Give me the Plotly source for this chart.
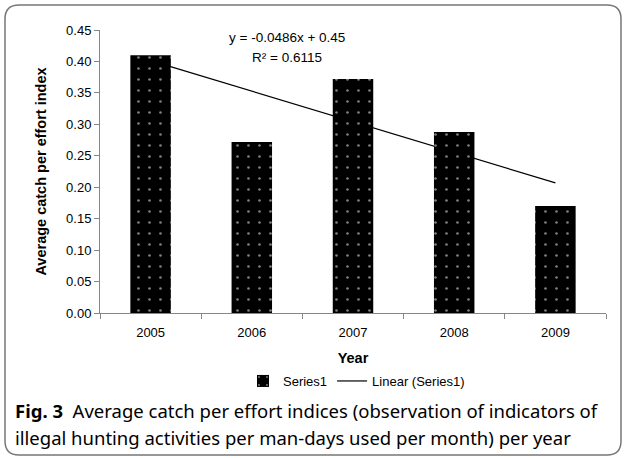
import plotly.graph_objects as go

years = ["2005", "2006", "2007", "2008", "2009"]
cpue = [0.410, 0.272, 0.372, 0.288, 0.170]
trend_slope = -0.0486
trend_intercept = 0.45
trend_vals = [trend_slope * (i + 1) + trend_intercept for i in range(len(years))]
y_ticks = [0.00, 0.05, 0.10, 0.15, 0.20, 0.25, 0.30, 0.35, 0.40, 0.45]

W, H = 624, 458
L, R, T, B = 100, 18, 30, 145
PW, PH = W - L - R, H - T - B

def px(x):
    return (x - L) / PW

def py(y):
    return (H - B - y) / PH

FONT = "Liberation Sans"

fig = go.Figure()
fig.add_trace(go.Scatter(
    x=years, y=trend_vals, mode="lines", name="Linear (Series1)",
    line=dict(color="black", width=1.2), xaxis="x", yaxis="y",
))
fig.add_trace(go.Bar(
    x=years, y=cpue, name="Series1", width=0.4, xaxis="x2", yaxis="y2",
    marker=dict(color="black", line=dict(width=0),
                pattern=dict(shape=".", bgcolor="black", fgcolor="white",
                             size=11, solidity=0.045, fillmode="overlay")),
))

axis_common = dict(showline=True, linecolor="#868686", linewidth=1, ticks="outside",
                   ticklen=5, tickcolor="#868686", showgrid=False, zeroline=False,
                   tickfont=dict(size=13))
fig.update_layout(
    width=W, height=H, margin=dict(l=L, r=R, t=T, b=B),
    paper_bgcolor="white", plot_bgcolor="white",
    font=dict(family=FONT, size=13, color="black"),
    showlegend=True,
    legend=dict(orientation="h", x=px(243), y=py(381), xanchor="left", yanchor="middle",
                font=dict(size=13), traceorder="reversed",
                bgcolor="rgba(0,0,0,0)"),
    xaxis=dict(**axis_common, tickson="boundaries", ticklabelstandoff=7,
               title=dict(text="<b>Year</b>", standoff=14, font=dict(size=14.5))),
    yaxis=dict(**axis_common, range=[0, 0.45], tickvals=y_ticks, tickformat=".2f",
               title=dict(text="<b>Average catch per effort index</b>", standoff=16,
                          font=dict(size=14.5))),
    xaxis2=dict(overlaying="x", matches="x", visible=False, categoryorder="array",
                categoryarray=years),
    yaxis2=dict(overlaying="y", range=[0, 0.45], visible=False),
    bargap=0.6,
)

fig.add_annotation(xref="paper", yref="paper", x=px(287), y=py(38),
                   text="y = -0.0486x + 0.45", showarrow=False,
                   font=dict(size=13.5), xanchor="center", yanchor="middle")
fig.add_annotation(xref="paper", yref="paper", x=px(287), y=py(57),
                   text="R² = 0.6115", showarrow=False,
                   font=dict(size=13.5), xanchor="center", yanchor="middle")

CAP = "Noto Sans"
fig.add_annotation(xref="paper", yref="paper", x=px(13), y=py(410),
                   text="<b>Fig. 3</b>  Average catch per effort indices (observation of indicators of",
                   showarrow=False, font=dict(size=18.5, family=CAP),
                   xanchor="left", yanchor="middle", align="left")
fig.add_annotation(xref="paper", yref="paper", x=px(13), y=py(437),
                   text="illegal hunting activities per man-days used per month) per year",
                   showarrow=False, font=dict(size=18.5, family=CAP),
                   xanchor="left", yanchor="middle", align="left")

# rounded frame
x0, x1, y0, y1 = px(5), px(621), py(5), py(455)
r, ry = 14 / PW, 14 / PH
path = (f"M {x0+r},{y0} L {x1-r},{y0} Q {x1},{y0} {x1},{y0-ry} "
        f"L {x1},{y1+ry} Q {x1},{y1} {x1-r},{y1} L {x0+r},{y1} "
        f"Q {x0},{y1} {x0},{y1+ry} L {x0},{y0-ry} Q {x0},{y0} {x0+r},{y0} Z")
fig.add_shape(type="path", xref="paper", yref="paper", path=path,
              line=dict(color="#777777", width=1.5), layer="below")

fig.write_html("out.html", config={"displayModeBar": False},
               post_script="document.body.style.margin='0';document.body.style.overflow='hidden';")
